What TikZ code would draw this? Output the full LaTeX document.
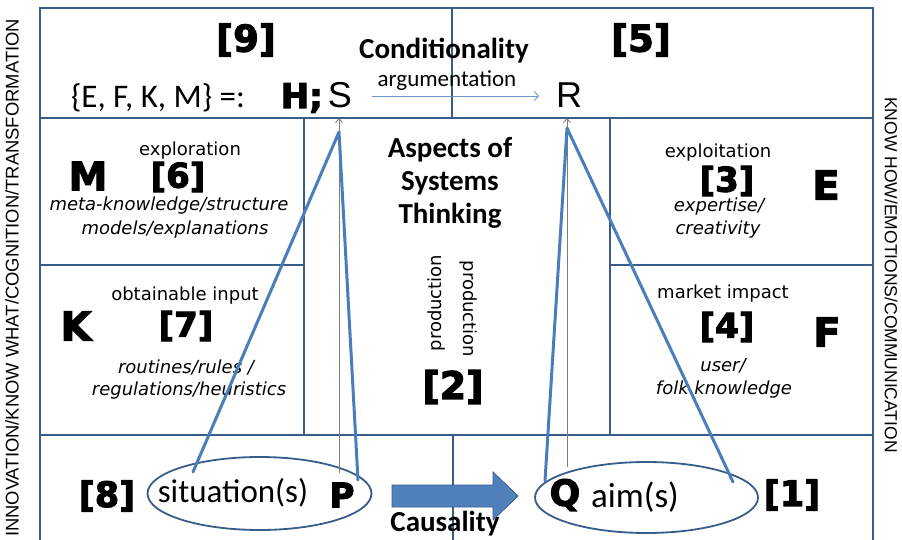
\documentclass[tikz,border=0pt]{standalone}
\usepackage{fontspec}
\newfontfamily\calib{Carlito}
\newfontfamily\verd{DejaVu Sans}
\newfontfamily\ari{Liberation Sans}
\newfontfamily\hvy{DejaVu Sans Bold}[FakeBold=3]
\usetikzlibrary{arrows.meta,shapes.geometric}
\definecolor{framec}{RGB}{56,93,138}
\definecolor{linec}{RGB}{74,126,187}
\definecolor{arrowc}{RGB}{79,129,189}
\definecolor{argc}{RGB}{110,150,205}
\definecolor{grayc}{RGB}{125,125,125}
\tikzset{
 framestroke/.style={draw=framec,line width=1.8pt},
 bluestroke/.style={draw=linec,line width=3pt,line join=round,line cap=round},
 grayarrow/.style={draw=grayc,line width=0.9pt,-{Straight Barb[length=4pt,width=7pt]}},
 argarrow/.style={draw=argc,line width=0.9pt,-{Straight Barb[length=4pt,width=9pt]}},
 vtxt/.style={inner sep=0pt,font=\verd\fontsize{18}{21}\selectfont},
 vit/.style={inner sep=0pt,font=\verd\itshape\fontsize{18}{21}\selectfont},
 heavytxt/.style={inner sep=0pt,font=\hvy\fontsize{#1}{#1}\selectfont},
 caltxt/.style={inner sep=0pt,font=\calib\fontsize{#1}{#1}\selectfont},
 calbold/.style={inner sep=0pt,font=\calib\bfseries\fontsize{#1}{#1}\selectfont},
 aritxt/.style={inner sep=0pt,font=\ari\fontsize{#1}{#1}\selectfont},
 ellbox/.style={ellipse,draw=framec,line width=1.8pt,inner sep=0pt},
}
\begin{document}
\begin{tikzpicture}[x=1pt,y=-1pt]
\useasboundingbox (0,0) rectangle (902,540);
\fill[white] (0,0) rectangle (902,540);

% frame
\draw[framestroke] (40,540) -- (40,8) -- (873,8) -- (873,540);
\draw[framestroke] (40,118) -- (873,118);
\draw[framestroke] (452,8) -- (452,118);
\draw[framestroke] (304,118) -- (304,435);
\draw[framestroke] (40,265) -- (304,265);
\draw[framestroke] (610,118) -- (610,435);
\draw[framestroke] (610,265) -- (873,265);
\draw[framestroke] (40,435) -- (873,435);
\draw[framestroke] (453,435) -- (453,540);

% side texts
\node[aritxt=18.4,rotate=90] (leftside) at (12,278) {INNOVATION/KNOW WHAT/COGNITION/TRANSFORMATION};
\node[aritxt=17.5,rotate=-90] (rightside) at (891,275) {KNOW HOW/EMOTIONS/COMMUNICATION};

% top section
\node[heavytxt=37] (n9) at (246,40) {[9]};
\node[heavytxt=37] (n5) at (641,40) {[5]};
\node[calbold=29,anchor=base] (cond) at (444,59) {Conditionality};
\node[caltxt=33,anchor=base] (hset) at (158,108) {\{E, F, K, M\} =:};
\node[heavytxt=34,anchor=base east] (H) at (323,108) {H;};
\node[aritxt=36,anchor=base] (S) at (340,108) {S};
\node[aritxt=36,anchor=base] (R) at (569,108) {R};
\node[caltxt=23,anchor=base] (arg) at (447,87) {argumentation};

% M box
\node[vtxt] (explo) at (190,151) {exploration};
\node[heavytxt=39] (M) at (88,176) {M};
\node[heavytxt=34] (n6) at (178,177) {[6]};
\node[vit] (meta) at (169,206) {meta-knowledge/structure};
\node[vit] (models) at (175,230) {models/explanations};

% K box
\node[vtxt] (obt) at (185,296) {obtainable input};
\node[heavytxt=40] (K) at (76,326) {K};
\node[heavytxt=34] (n7) at (186,326) {[7]};
\node[vit] (rout) at (186,367) {routines/rules /};
\node[vit] (regu) at (189,391) {regulations/heuristics};

% centre
\node[inner sep=0pt,align=center,font=\calib\bfseries\fontsize{29}{33}\selectfont] (aspects) at (450,183) {Aspects of\\Systems\\Thinking};
\node[vtxt,rotate=90] (prod1) at (437,303) {production};
\node[vtxt,rotate=-90] (prod2) at (468,309) {production};
\node[heavytxt=38] (n2) at (453,387) {[2]};

% E box
\node[vtxt] (exploit) at (718,153) {exploitation};
\node[heavytxt=34] (n3) at (727,181) {[3]};
\node[heavytxt=40] (E) at (826,185) {E};
\node[vit] (expert) at (719,207) {expertise/};
\node[vit] (creat) at (718,230) {creativity};

% F box
\node[vtxt] (market) at (723,294) {market impact};
\node[heavytxt=34] (n4) at (727,327) {[4]};
\node[heavytxt=40] (F) at (827,332) {F};
\node[vit] (user) at (723,366) {user/};
\node[vit] (folk) at (724,390) {folk knowledge};

% bottom
\node[ellbox,minimum width=224pt,minimum height=73pt] (sitell) at (259.5,493.5) {};
\node[ellbox,minimum width=223pt,minimum height=71pt] (aimell) at (646.5,497.5) {};
\node[heavytxt=35] (n8) at (107,496) {[8]};
\node[caltxt=33] (sit) at (233,493) {situation(s)};
\node[heavytxt=34] (P) at (342,495) {P};
\node[heavytxt=36] (Q) at (565,495) {Q};
\node[caltxt=35] (aim) at (635,497) {aim(s)};
\node[heavytxt=35] (n1) at (792,495) {[1]};
\node[calbold=29,anchor=base] (caus) at (445,531) {Causality};

% causality block arrow
\draw[fill=arrowc,draw=framec,line width=0.8pt] (392,485) -- (493,485) -- (493,472) -- (518,496) -- (493,520) -- (493,507) -- (392,507) -- cycle;

% connectors
\coordinate (Sapex) at (339,132);
\coordinate (SitEnd) at (193,472);
\coordinate (PEnd) at (358,480);
\coordinate (Rapex) at (567,128);
\coordinate (QEnd) at (545,481);
\coordinate (AimEnd) at (733,482);
\coordinate (PBase) at (339,473);
\coordinate (STop) at (339,118);
\coordinate (QBase) at (567,467);
\coordinate (RTop) at (567,118);
\coordinate (ArgStart) at (372,96);
\coordinate (ArgEnd) at (539,96);

\draw[grayarrow] (PBase) -- (STop);
\draw[grayarrow] (QBase) -- (RTop);
\draw[argarrow] (ArgStart) -- (ArgEnd);
\draw[bluestroke] (SitEnd) -- (Sapex) -- (PEnd);
\draw[bluestroke] (QEnd) -- (Rapex) -- (AimEnd);
\end{tikzpicture}
\end{document}
